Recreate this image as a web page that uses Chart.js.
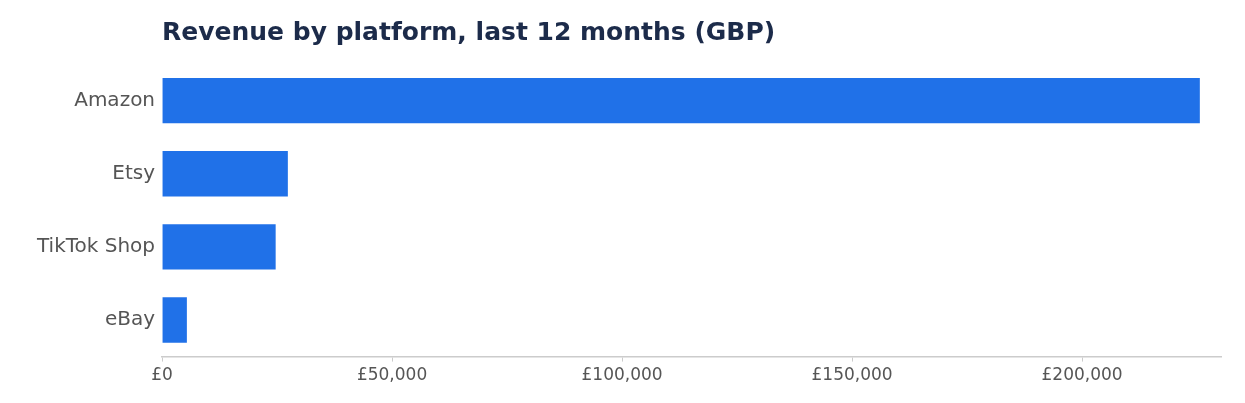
<!DOCTYPE html>
<html>
<head>
<meta charset="utf-8">
<script src="https://cdn.jsdelivr.net/npm/chart.js@4/dist/chart.umd.min.js"></script>
<style>
  html, body { margin: 0; padding: 0; background: #fff; }
  #wrap { width: 1245px; height: 403px; }
</style>
</head>
<body>
<div id="wrap"><canvas id="chart"></canvas></div>
<script>
// categorias e valores (GBP)
const platforms = ['Amazon', 'Etsy', 'TikTok Shop', 'eBay'];
const revenue = [225600, 27350, 24700, 5400];
const xTicks = [0, 50000, 100000, 150000, 200000];

const fmtGBP = (v) => '£' + v.toLocaleString('en-GB');

new Chart(document.getElementById('chart'), {
  type: 'bar',
  data: {
    labels: platforms,
    datasets: [
      {
        data: revenue,
        backgroundColor: '#2071e8',
        categoryPercentage: 1,
        barPercentage: 0.62,
      },
    ],
  },
  options: {
    indexAxis: 'y',
    responsive: true,
    maintainAspectRatio: false,
    animation: false,
    layout: { padding: { top: 10, right: 24, bottom: 13, left: 30 } },
    plugins: {
      legend: { display: false },
      tooltip: { enabled: false },
      title: {
        display: true,
        text: 'Revenue by platform, last 12 months (GBP)',
        align: 'start',
        fullSize: false,
        color: '#1c2b4a',
        font: { family: 'DejaVu Sans', size: 25, weight: 'bold' },
        padding: { top: 8, bottom: 16 },
      },
    },
    scales: {
      x: {
        min: 0,
        max: 230200,
        afterBuildTicks: (axis) => {
          axis.ticks = xTicks.map((v) => ({ value: v }));
        },
        grid: {
          display: true,
          drawOnChartArea: false,
          drawTicks: true,
          tickLength: 5,
          color: '#cccccc',
        },
        border: { display: true, color: '#cccccc', width: 1.5 },
        ticks: {
          color: '#555555',
          font: { family: 'DejaVu Sans', size: 17 },
          padding: 4,
          callback: (v) => fmtGBP(v),
        },
      },
      y: {
        grid: { display: false, drawTicks: false },
        border: { display: false },
        ticks: {
          color: '#555555',
          font: { family: 'DejaVu Sans', size: 20 },
          padding: 7,
        },
      },
    },
  },
});
</script>
</body>
</html>
